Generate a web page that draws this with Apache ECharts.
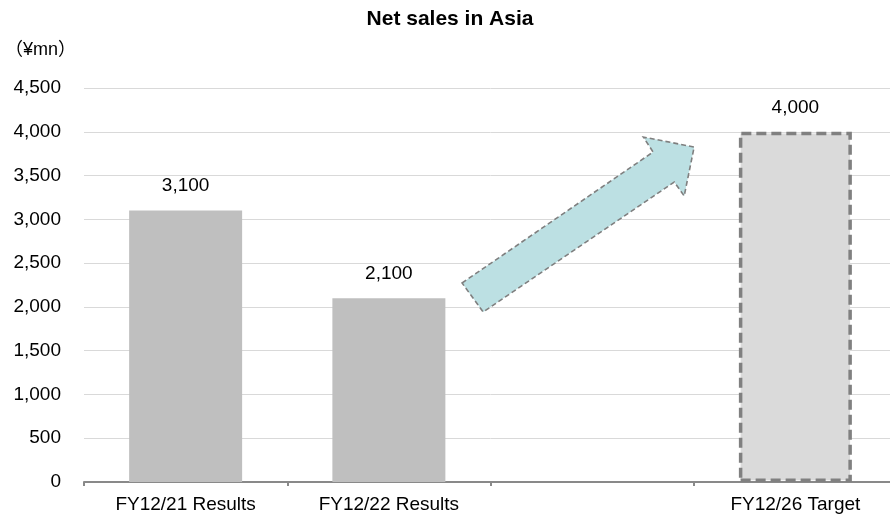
<!DOCTYPE html>
<html>
<head>
<meta charset="utf-8">
<script src="https://cdn.jsdelivr.net/npm/echarts@6/dist/echarts.min.js"></script>
<style>
  html, body { margin: 0; padding: 0; background: #fff; overflow: hidden; }
  #chart { width: 897px; height: 519px; }
</style>
</head>
<body>
<div id="chart"></div>
<script>
// Net sales in Asia (¥mn): two results years, a spacer slot and the target year
const categories = ['FY12/21 Results', 'FY12/22 Results', '', 'FY12/26 Target'];
const salesValues = [3100, 2100, null, 4000];
const targetIndex = 3;
const yTicks = [0, 500, 1000, 1500, 2000, 2500, 3000, 3500, 4000, 4500];

// Growth arrow outline, given as [category position, value] pairs
const arrowPath = [
  [1.360, 2273], [2.300, 3769], [2.252, 3940], [2.502, 3826],
  [2.453, 3267], [2.404, 3426], [1.464, 1942]
];

const FONT = '"Liberation Sans", Arial, "Noto Sans CJK JP", sans-serif';
const chart = echarts.init(document.getElementById('chart'));

const barData = salesValues.map((v, i) => {
  if (i !== targetIndex) return v;
  return {
    value: v,
    itemStyle: {
      color: '#dadada',
      borderColor: '#808080',
      borderWidth: 3.5,
      borderType: [10, 5]
    }
  };
});

chart.setOption({
  animation: false,
  title: [
    {
      text: 'Net sales in Asia',
      left: 445, textAlign: 'center', top: 4,
      textStyle: { fontFamily: FONT, fontSize: 21, fontWeight: 'bold', color: '#000' }
    },
    {
      text: '（¥mn）',
      left: 0, top: 36,
      textStyle: { fontFamily: FONT, fontSize: 18, fontWeight: 'normal', color: '#000' }
    }
  ],
  grid: { left: 84, top: 88, width: 813, height: 394, containLabel: false },
  xAxis: {
    type: 'category',
    data: categories,
    axisLine: { lineStyle: { color: '#898989', width: 2 } },
    axisTick: { show: true, length: 4, lineStyle: { color: '#898989', width: 2 } },
    axisLabel: { fontFamily: FONT, fontSize: 19, color: '#000', margin: 13 }
  },
  yAxis: {
    type: 'value',
    min: yTicks[0],
    max: yTicks[yTicks.length - 1],
    interval: yTicks[1] - yTicks[0],
    axisLine: { show: false },
    axisTick: { show: false },
    splitLine: { lineStyle: { color: '#d9d9d9', width: 1 } },
    axisLabel: {
      fontFamily: FONT, fontSize: 19, color: '#000', margin: 23,
      formatter: v => v.toLocaleString('en-US')
    }
  },
  series: [{
    type: 'bar',
    data: barData,
    barWidth: 113,
    itemStyle: { color: '#bfbfbf' },
    label: {
      show: true,
      position: 'top',
      distance: 15,
      fontFamily: FONT, fontSize: 19, color: '#000',
      formatter: p => p.value == null ? '' : Number(p.value).toLocaleString('en-US')
    }
  }]
});

// Map a fractional category position and a value onto the grid
function toPixel(c, v) {
  const a = chart.convertToPixel({ gridIndex: 0 }, [0, v]);
  const b = chart.convertToPixel({ gridIndex: 0 }, [1, v]);
  return [a[0] + (b[0] - a[0]) * c, a[1]];
}

chart.setOption({
  graphic: [{
    type: 'polygon',
    z: 10,
    shape: { points: arrowPath.map(p => toPixel(p[0], p[1])) },
    style: {
      fill: '#bce0e3',
      stroke: '#7f7f7f',
      lineWidth: 1.6,
      lineDash: [5, 3]
    }
  }]
});
</script>
</body>
</html>
